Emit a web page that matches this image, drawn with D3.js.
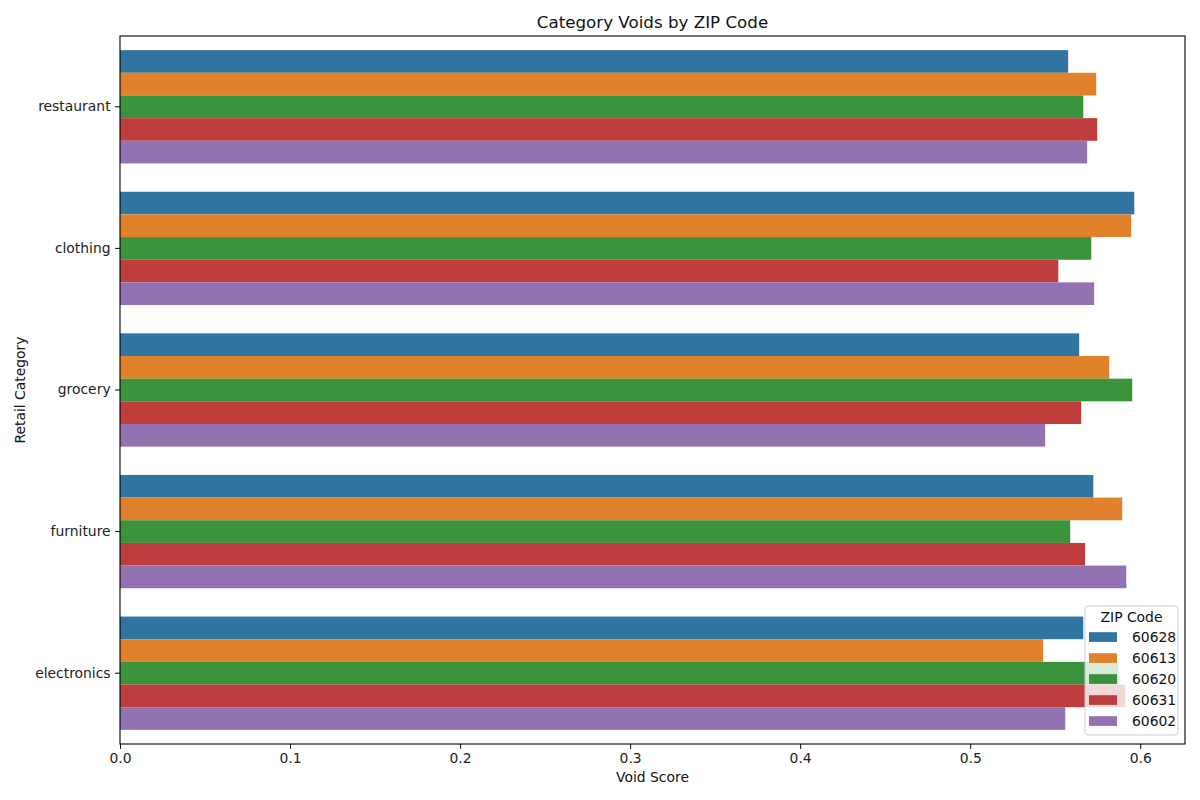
<!DOCTYPE html>
<html>
<head>
<meta charset="utf-8">
<script src="https://cdn.jsdelivr.net/npm/d3@7"></script>
<style>
  body { margin: 0; background: #fff; }
  svg { font-family: "DejaVu Sans", sans-serif; }
  .tick text { font-family: "DejaVu Sans", sans-serif; font-size: 13.9px; fill: #222; }
  .tick line { stroke: #000; stroke-width: 1; }
  .domain { display: none; }
</style>
</head>
<body>
<div id="chart"></div>
<script>
// values
const categories = ["restaurant", "clothing", "grocery", "furniture", "electronics"];
const zips = ["60628", "60613", "60620", "60631", "60602"];
const colors = ["#3274a1", "#e1812c", "#3a923a", "#c03d3e", "#9372b2"];
const scores = {
    "60628": [0.5576, 0.5965, 0.5641, 0.5724, 0.5665],
    "60613": [0.5741, 0.5947, 0.5818, 0.5894, 0.5429],
    "60620": [0.5665, 0.5712, 0.5953, 0.5588, 0.5871],
    "60631": [0.5747, 0.5518, 0.5653, 0.5676, 0.5912],
    "60602": [0.5688, 0.5729, 0.5441, 0.5918, 0.5559]
};
const xTicks = [0, 0.1, 0.2, 0.3, 0.4, 0.5, 0.6];

const margin = { top: 36, right: 15, bottom: 56, left: 120 };
const width = 1200 - margin.left - margin.right;
const height = 800 - margin.top - margin.bottom;

let svg = d3.select("#chart").append("svg").attr("width", 1200).attr("height", 800);
let g = svg.append("g").attr("transform", "translate(" + margin.left + "," + margin.top + ")");

let rows = [];
categories.forEach((c, i) => zips.forEach(z => rows.push({ category: c, zip: z, value: scores[z][i] })));

let maxVal = d3.max(rows, d => d.value);
let x = d3.scaleLinear().domain([0, maxVal * 1.05]).range([0, width]);
let y = d3.scaleBand().domain(categories).range([0, height]).paddingInner(0.2).paddingOuter(0.1);
let yInner = d3.scaleBand().domain(zips).range([0, y.bandwidth()]);
let color = d3.scaleOrdinal().domain(zips).range(colors);

g.selectAll("rect.bar").data(rows).join("rect").attr("class", "bar")
    .attr("x", 0)
    .attr("y", d => y(d.category) + yInner(d.zip))
    .attr("width", d => x(d.value))
    .attr("height", yInner.bandwidth())
    .attr("fill", d => color(d.zip));

let xAxis = g.append("g").attr("transform", "translate(0," + height + ")")
    .call(d3.axisBottom(x).tickValues(xTicks).tickFormat(d3.format(".1f")).tickSize(4.9).tickPadding(4.5));
let yAxis = g.append("g")
    .call(d3.axisLeft(y).tickSize(4.9).tickPadding(4.5));

// frame
g.append("rect").attr("x", 0).attr("y", 0).attr("width", width).attr("height", height)
    .attr("fill", "none").attr("stroke", "#000").attr("stroke-width", 1.1);

svg.append("text").attr("x", margin.left + width / 2).attr("y", 28)
    .attr("text-anchor", "middle").style("font-size", "16.7px").style("fill", "#111")
    .text("Category Voids by ZIP Code");
svg.append("text").attr("x", margin.left + width / 2).attr("y", 782)
    .attr("text-anchor", "middle").style("font-size", "13.9px").style("fill", "#111")
    .text("Void Score");
svg.append("text").attr("transform", "translate(25," + (margin.top + height / 2) + ") rotate(-90)")
    .attr("text-anchor", "middle").style("font-size", "13.9px").style("fill", "#111")
    .text("Retail Category");

// legend, bottom right
let lw = 93, lh = 129;
let legend = g.append("g").attr("transform", "translate(" + (width - 7 - lw) + "," + (height - 9 - lh) + ")");
legend.append("rect").attr("width", lw).attr("height", lh).attr("rx", 3)
    .attr("fill", "#fff").attr("fill-opacity", 0.8).attr("stroke", "#ccc").attr("stroke-width", 1);
legend.append("text").attr("x", lw / 2).attr("y", 16).attr("text-anchor", "middle")
    .style("font-size", "13.9px").style("fill", "#111").text("ZIP Code");
let items = legend.selectAll("g.item").data(zips).join("g").attr("class", "item")
    .attr("transform", (d, i) => "translate(4," + (31 + i * 21) + ")");
items.append("rect").attr("x", 0).attr("y", -4.8).attr("width", 28).attr("height", 9.7).attr("fill", d => color(d));
items.append("text").attr("x", 43).attr("y", 5).style("font-size", "13.9px").style("fill", "#111").text(d => d);
</script>
</body>
</html>
